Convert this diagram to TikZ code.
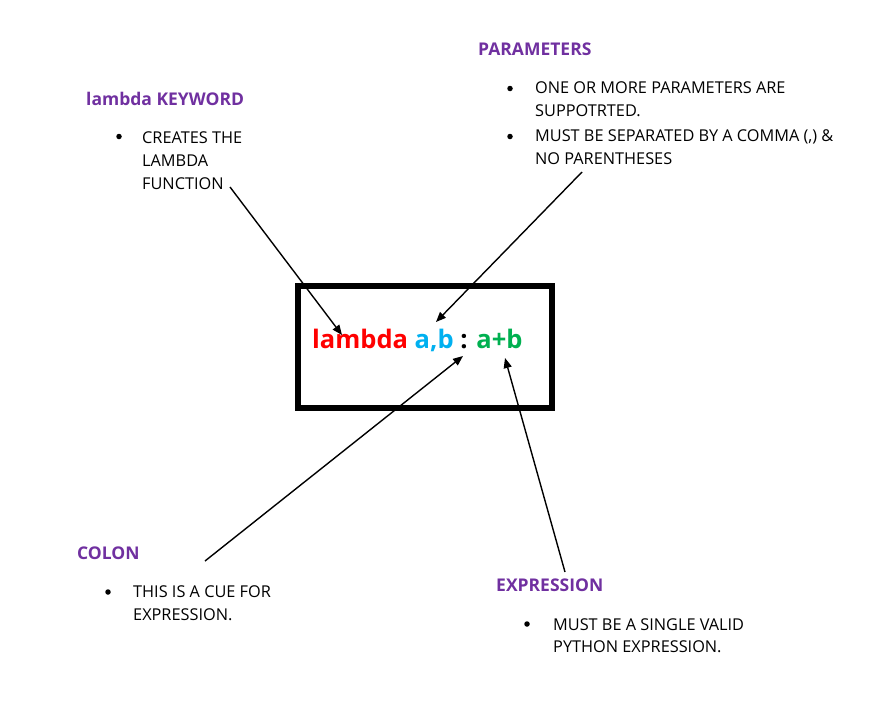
\documentclass[tikz,border=0pt]{standalone}
\usepackage{fontspec}
\setmainfont{Open Sans}
\usetikzlibrary{arrows.meta, positioning}

\begin{document}
\begin{tikzpicture}[x=1pt, y=-1pt]

% ---------------------------------------------------------------- colours
\definecolor{headpurple}{HTML}{7030A0}   % the four headings
\definecolor{kwred}{HTML}{FF0000}        % lambda
\definecolor{argblue}{HTML}{00B0F0}      % a,b
\definecolor{exprgreen}{HTML}{00B050}    % a+b

% ---------------------------------------------------------------- styles
\tikzset{
    heading/.style={font=\bfseries\fontsize{17.5}{20}\selectfont, text=headpurple,
                    inner sep=0pt, anchor=base west},
    bodytext/.style={font=\fontsize{16.3}{23}\selectfont, inner sep=0pt,
                     anchor=base west},
    bulletdot/.style={circle, fill=black, inner sep=0pt, minimum size=5.5pt},
    codebox/.style={draw, line width=5.5pt},
    pointer/.style={-{Triangle[length=10pt, width=8pt]}, line width=1.4pt},
}

\useasboundingbox (0, 0) rectangle (878, 707);

% ----------------------------------------------------------------------
% the lambda expression in its box
% ----------------------------------------------------------------------
\draw[codebox] (298, 286) rectangle (552, 408);
\node[font=\bfseries\fontsize{25.5}{29}\selectfont, inner sep=0pt,
      anchor=base west] (code) at (312, 348)
    {\textcolor{kwred}{lambda} \textcolor{argblue}{a,b} : \textcolor{exprgreen}{a+b}};

% ----------------------------------------------------------------------
% lambda KEYWORD
% ----------------------------------------------------------------------
\node[heading] (kwhead) at (86, 105) {lambda KEYWORD};
\node[bulletdot] (kwdot) at (119, 136.5) {};
\node[bodytext] (kwline1) at (142, 143) {CREATES THE};
\node[bodytext] (kwline2) at (142, 166) {LAMBDA};
\node[bodytext] (kwline3) at (142, 189) {FUNCTION};

% ----------------------------------------------------------------------
% PARAMETERS
% ----------------------------------------------------------------------
\node[heading] (parhead) at (478, 55) {PARAMETERS};
\node[bulletdot] (pardot1) at (510, 88.5) {};
\node[bodytext] (parline1) at (535, 93) {ONE OR MORE PARAMETERS ARE};
\node[bodytext] (parline2) at (535, 116) {SUPPOTRTED.};
\node[bulletdot] (pardot2) at (510, 136.5) {};
\node[bodytext] (parline3) at (535, 141) {MUST BE SEPARATED BY A COMMA (,) \&};
\node[bodytext] (parline4) at (535, 164) {NO PARENTHESES};

% ----------------------------------------------------------------------
% COLON
% ----------------------------------------------------------------------
\node[heading] (colhead) at (77, 559) {COLON};
\node[bulletdot] (coldot) at (108, 592) {};
\node[bodytext] (colline1) at (133, 597) {THIS IS A CUE FOR};
\node[bodytext] (colline2) at (133, 620) {EXPRESSION.};

% ----------------------------------------------------------------------
% EXPRESSION
% ----------------------------------------------------------------------
\node[heading] (exphead) at (496, 591) {EXPRESSION};
\node[bulletdot] (expdot) at (527, 624) {};
\node[bodytext] (expline1) at (553, 630) {MUST BE A SINGLE VALID};
\node[bodytext] (expline2) at (553, 652) {PYTHON EXPRESSION.};

% ----------------------------------------------------------------------
% pointers from each note into the expression
% ----------------------------------------------------------------------
\coordinate (kwfrom) at (230, 187);
\coordinate (kwto) at (342, 335);
\coordinate (parfrom) at (582, 172);
\coordinate (parto) at (436, 322);
\coordinate (colfrom) at (205, 561);
\coordinate (colto) at (463, 356);
\coordinate (expfrom) at (565, 572);
\coordinate (expto) at (505, 358);

\draw[pointer] (kwfrom) -- (kwto);
\draw[pointer] (parfrom) -- (parto);
\draw[pointer] (colfrom) -- (colto);
\draw[pointer] (expfrom) -- (expto);

\end{tikzpicture}
\end{document}
